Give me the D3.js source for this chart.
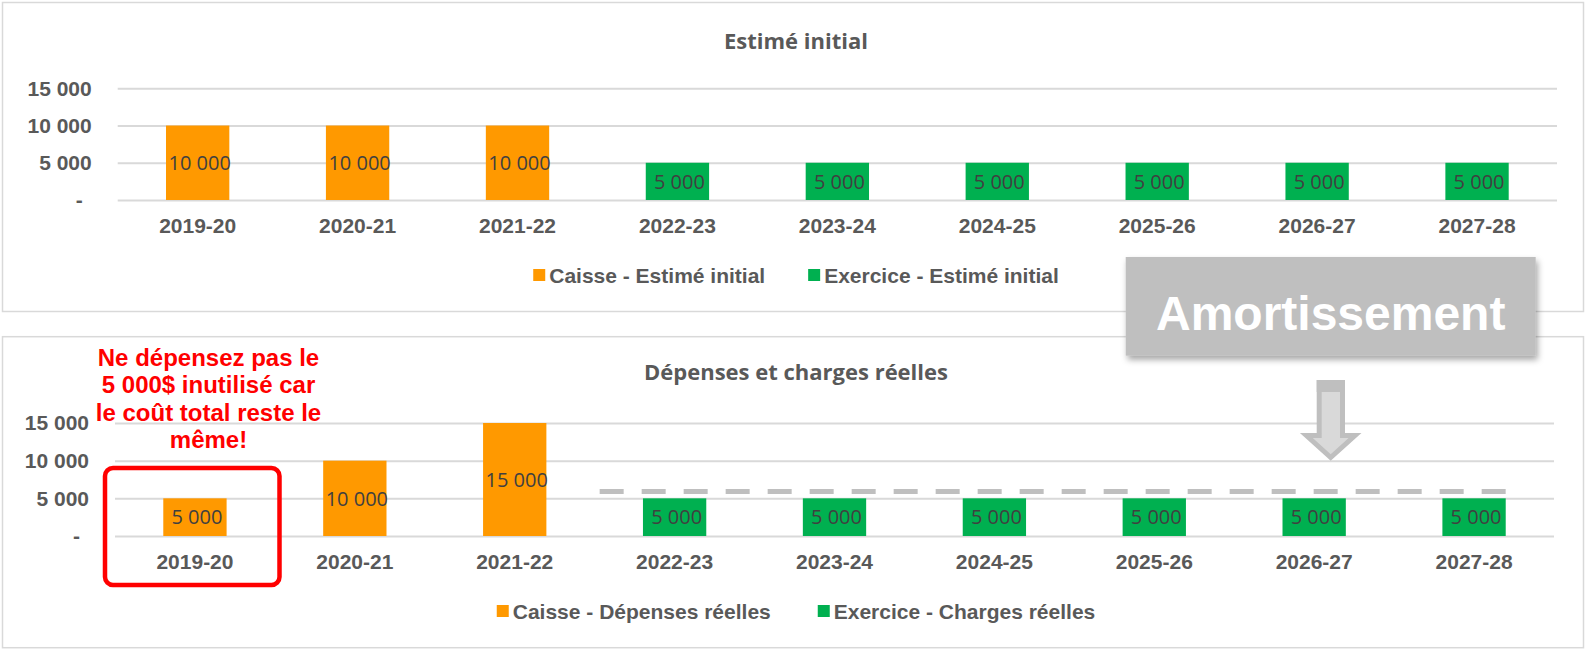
<!DOCTYPE html>
<html>
<head>
<meta charset="utf-8">
<script src="https://cdn.jsdelivr.net/npm/d3@7"></script>
<style>
  body { margin: 0; background: #fff; }
  svg { display: block; }
  .yaxis text, .xaxis text { font-family: "Liberation Sans", Arial, sans-serif; font-weight: bold; font-size: 21px; fill: #595959; }
  .yaxis line { stroke: #D9D9D9; stroke-width: 2; }
  .title { font-family: "Open Sans", sans-serif; font-weight: bold; font-size: 22px; fill: #595959; }
  .bar-label { font-family: "Open Sans", sans-serif; font-size: 20px; fill: #404040; }
  .legend text { font-family: "Liberation Sans", Arial, sans-serif; font-weight: bold; font-size: 21px; fill: #595959; }
  .note { font-family: "Liberation Sans", Arial, sans-serif; font-weight: bold; font-size: 24px; fill: #FF0000; }
  .amort { font-family: "Liberation Sans", Arial, sans-serif; font-weight: bold; font-size: 48px; fill: #fff; }
</style>
</head>
<body>
<div id="chart"></div>
<script>
var categories = ['2019-20', '2020-21', '2021-22', '2022-23', '2023-24', '2024-25', '2025-26', '2026-27', '2027-28'];
var estimeCaisse   = [10000, 10000, 10000, 0, 0, 0, 0, 0, 0];
var estimeExercice = [0, 0, 0, 5000, 5000, 5000, 5000, 5000, 5000];
var reelCaisse     = [5000, 10000, 15000, 0, 0, 0, 0, 0, 0];
var reelExercice   = [0, 0, 0, 5000, 5000, 5000, 5000, 5000, 5000];
var yTicks = [0, 5000, 10000, 15000];
var amortLevel = 5900; // dashed line in the second chart
var noteLines = ['Ne dépensez pas le', '5 000$ inutilisé car', 'le coût total reste le', 'même!'];

var W = 1585, H = 649;
var orange = '#FF9900', green = '#00B050';

var panels = [
  { title: 'Estimé initial', top: 2.5, height: 309, titleY: 48.5,
    plot: { left: 117.7, right: 1557, top: 88.3, bottom: 200 },
    legendY: 275, legendGap: 43,
    series: [
      { name: 'Caisse - Estimé initial', values: estimeCaisse, color: orange },
      { name: 'Exercice - Estimé initial', values: estimeExercice, color: green }
    ] },
  { title: 'Dépenses et charges réelles', top: 336.7, height: 311, titleY: 380,
    plot: { left: 115, right: 1554, top: 423, bottom: 536 },
    legendY: 611, legendGap: 47,
    series: [
      { name: 'Caisse - Dépenses réelles', values: reelCaisse, color: orange },
      { name: 'Exercice - Charges réelles', values: reelExercice, color: green }
    ] }
];

var svg = d3.select('#chart').append('svg')
    .attr('width', W)
    .attr('height', H);

var defs = svg.append('defs');
defs.append('filter')
    .attr('id', 'shadow')
    .attr('x', '-10%').attr('y', '-10%').attr('width', '120%').attr('height', '130%')
  .append('feDropShadow')
    .attr('dx', 2).attr('dy', 4).attr('stdDeviation', 3)
    .attr('flood-color', '#000').attr('flood-opacity', 0.35);

var fmt = function(v) { return v === 0 ? '-' : d3.format(',')(v).replace(/,/g, ' '); };

var scales = [];

panels.forEach(function(p) {
  var g = svg.append('g');

  g.append('rect')
      .attr('x', 2.5).attr('y', p.top)
      .attr('width', 1581).attr('height', p.height)
      .attr('fill', '#fff')
      .attr('stroke', '#D9D9D9')
      .attr('stroke-width', 1.5);

  g.append('text')
      .attr('class', 'title')
      .attr('x', 796).attr('y', p.titleY)
      .attr('text-anchor', 'middle')
      .text(p.title);

  var x = d3.scaleBand().domain(categories).range([p.plot.left, p.plot.right]).padding(0);
  var y = d3.scaleLinear().domain([0, 15000]).range([p.plot.bottom, p.plot.top]);
  scales.push({ x: x, y: y });

  // gridlines + value labels
  var yAxis = g.append('g')
      .attr('class', 'yaxis')
      .attr('transform', 'translate(' + p.plot.left + ',0)')
      .call(d3.axisLeft(y).tickValues(yTicks).tickFormat(fmt)
        .tickSize(-(p.plot.right - p.plot.left)).tickPadding(26));
  yAxis.select('.domain').remove();
  yAxis.selectAll('.tick text')
      .attr('dx', function(d) { return d === 0 ? -9 : 0; });

  var xAxis = g.append('g')
      .attr('class', 'xaxis')
      .attr('transform', 'translate(0,' + p.plot.bottom + ')')
      .call(d3.axisBottom(x).tickSize(0).tickPadding(18));
  xAxis.select('.domain').remove();

  var barW = x.bandwidth() * 0.396;

  p.series.forEach(function(s) {
    var rows = categories.map(function(c, i) { return { cat: c, value: s.values[i] }; })
      .filter(function(d) { return d.value > 0; });

    g.selectAll(null)
      .data(rows)
      .enter().append('rect')
        .attr('x', function(d) { return x(d.cat) + (x.bandwidth() - barW) / 2; })
        .attr('y', function(d) { return y(d.value); })
        .attr('width', barW)
        .attr('height', function(d) { return y(0) - y(d.value); })
        .attr('fill', s.color);

    g.selectAll(null)
      .data(rows)
      .enter().append('text')
        .attr('class', 'bar-label')
        .attr('x', function(d) { return x(d.cat) + x.bandwidth() / 2 + 2; })
        .attr('y', function(d) { return (y(d.value) + y(0)) / 2; })
        .attr('dy', '0.36em')
        .attr('text-anchor', 'middle')
        .text(function(d) { return fmt(d.value); });
  });

  // legend, centred under the plot
  var legend = g.append('g').attr('class', 'legend');
  var offset = 0;
  p.series.forEach(function(s, i) {
    var item = legend.append('g').attr('transform', 'translate(' + offset + ',0)');
    item.append('rect')
        .attr('x', 0).attr('y', p.legendY - 6)
        .attr('width', 12).attr('height', 12)
        .attr('fill', s.color);
    var t = item.append('text')
        .attr('x', 16).attr('y', p.legendY)
        .attr('dy', '0.36em')
        .text(s.name);
    offset += 16 + t.node().getComputedTextLength() + (i < p.series.length - 1 ? p.legendGap : 0);
  });
  legend.attr('transform', 'translate(' + (796 - offset / 2) + ',0)');
});

// amortisation dashed line on the second chart
var s2 = scales[1];
var barW2 = s2.x.bandwidth() * 0.396;
svg.append('line')
    .attr('x1', s2.x('2022-23') + 5)
    .attr('x2', s2.x('2027-28') + (s2.x.bandwidth() + barW2) / 2)
    .attr('y1', s2.y(amortLevel))
    .attr('y2', s2.y(amortLevel))
    .attr('stroke', '#BFBFBF')
    .attr('stroke-width', 5)
    .attr('stroke-dasharray', '24,18');

// red note and frame around 2019-20
var note = svg.append('text')
    .attr('class', 'note')
    .attr('text-anchor', 'middle');
noteLines.forEach(function(line, i) {
  note.append('tspan')
      .attr('x', 208.5)
      .attr('y', 366 + i * 27.3)
      .text(line);
});

svg.append('rect')
    .attr('x', 105).attr('y', 468)
    .attr('width', 174.5).attr('height', 117)
    .attr('rx', 8)
    .attr('fill', 'none')
    .attr('stroke', '#FF0000')
    .attr('stroke-width', 4.5);

// "Amortissement" call-out
svg.append('rect')
    .attr('x', 1125.7).attr('y', 257)
    .attr('width', 410).attr('height', 98.7)
    .attr('fill', '#BFBFBF')
    .attr('filter', 'url(#shadow)');

svg.append('text')
    .attr('class', 'amort')
    .attr('x', 1330.7).attr('y', 330)
    .attr('text-anchor', 'middle')
    .text('Amortissement');

// down arrow
svg.append('path')
    .attr('d', 'M1319.2,382.5 L1342.5,382.5 L1342.5,435.5 L1355,435.5 L1330.7,457.5 L1306.4,435.5 L1319.2,435.5 Z')
    .attr('fill', '#D9D9D9')
    .attr('stroke', '#BFBFBF')
    .attr('stroke-width', 5)
    .attr('stroke-linejoin', 'miter');
svg.append('rect')
    .attr('x', 1316.7).attr('y', 380)
    .attr('width', 28.3).attr('height', 12)
    .attr('fill', '#BFBFBF');
</script>
</body>
</html>
